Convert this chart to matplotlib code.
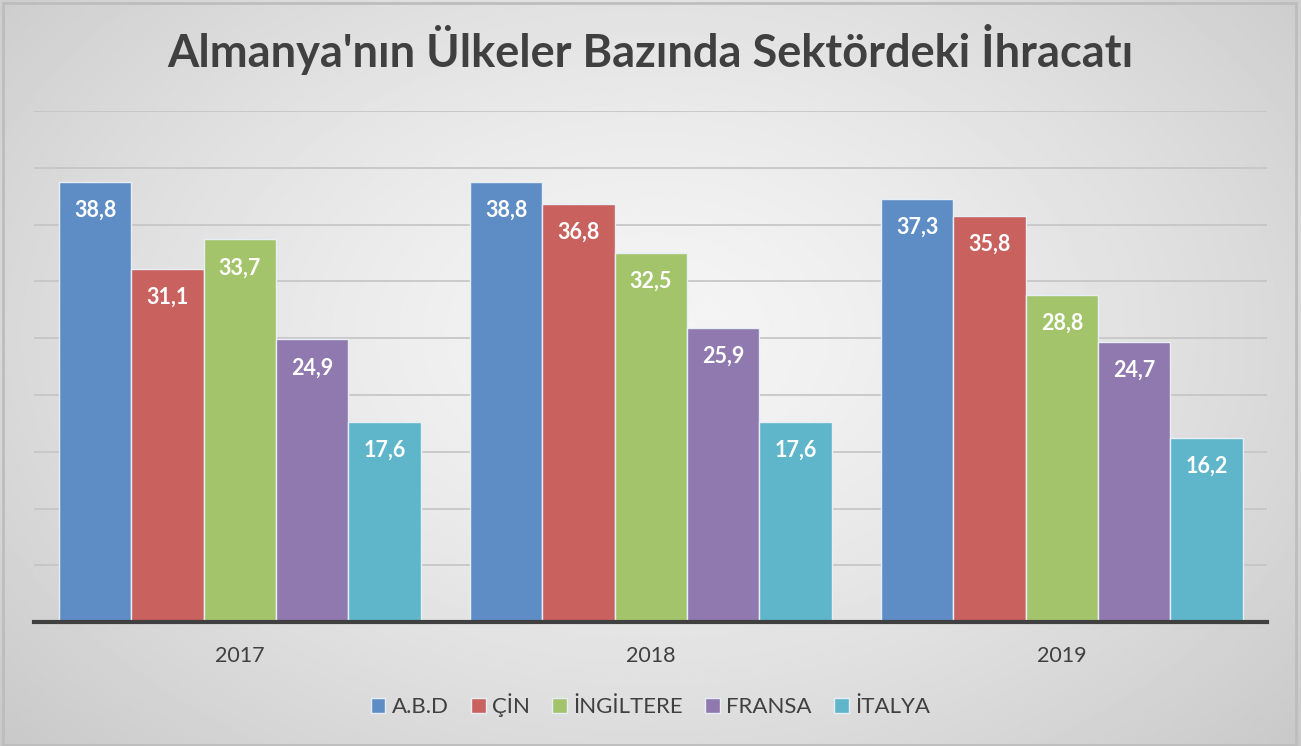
import numpy as np
import matplotlib.pyplot as plt
from matplotlib.patches import Rectangle

years = ['2017', '2018', '2019']
countries = ['A.B.D', 'ÇİN', 'İNGİLTERE', 'FRANSA', 'İTALYA']
abd = [38.8, 38.8, 37.3]
cin = [31.1, 36.8, 35.8]
ingiltere = [33.7, 32.5, 28.8]
fransa = [24.9, 25.9, 24.7]
italya = [17.6, 17.6, 16.2]
series = [abd, cin, ingiltere, fransa, italya]
colors = ['#5E8DC6', '#C9615F', '#A4C46C', '#8F79AF', '#5FB6CB']

plt.rcParams['font.family'] = ['Lato', 'DejaVu Sans']

fig = plt.figure(figsize=(13.01, 7.46), dpi=100)

# background: soft radial gradient, light in the middle
bg = fig.add_axes([0, 0, 1, 1], zorder=-10)
yy, xx = np.mgrid[0:1:300j, 0:1:500j]
r = np.sqrt(((xx - 0.5) / 0.75) ** 2 + ((yy - 0.55) / 0.9) ** 2)
shade = np.clip(0.96 - 0.2 * r ** 1.4, 0.75, 0.96)
bg.imshow(shade, cmap='gray', vmin=0, vmax=1, aspect='auto',
          extent=[0, 1, 0, 1], origin='lower')
bg.set_xlim(0, 1)
bg.set_ylim(0, 1)
bg.axis('off')
bg.add_patch(Rectangle((0.002, 0.002), 0.994, 0.994, fill=False,
                       edgecolor='#bdbdbd', linewidth=2))

ax = fig.add_axes([0.0265, 0.166, 0.9477, 0.685])
ax.patch.set_alpha(0)

x = np.arange(len(years))
w = 0.176
for i, (vals, c) in enumerate(zip(series, colors)):
    pos = x + (i - 2) * w
    bars = ax.bar(pos, vals, width=w, color=c, edgecolor='#e8eef5',
                  linewidth=1, label=countries[i], zorder=3)
    for b, v in zip(bars, vals):
        ax.text(b.get_x() + b.get_width() / 2, v - 2.5,
                f'{v:.1f}'.replace('.', ','), ha='center', va='center',
                color='white', fontsize=15.5, fontweight='bold', zorder=4)

ax.set_xlim(-0.5, 2.5)
ax.set_ylim(0, 45)
ax.set_yticks(np.arange(0, 46, 5))
ax.yaxis.grid(True, color='#c4c4c4', linewidth=1.2, zorder=0)
ax.set_yticklabels([])
ax.tick_params(axis='y', length=0)
ax.set_xticks(x)
ax.set_xticklabels(years, fontsize=15.5, color='#404040')
ax.tick_params(axis='x', length=0, pad=17)
for s in ['top', 'right', 'left']:
    ax.spines[s].set_visible(False)
ax.spines['bottom'].set_color('#404040')
ax.spines['bottom'].set_linewidth(3)
ax.spines['bottom'].set_zorder(5)

fig.text(0.5, 0.933, "Almanya'nın Ülkeler Bazında Sektördeki İhracatı",
         ha='center', va='center', fontsize=32.5, fontweight='bold',
         color='#404040')

fig.legend(loc='center', bbox_to_anchor=(0.5, 0.055), ncol=5, frameon=False,
           fontsize=16, handlelength=0.65, handleheight=0.65, handletextpad=0.3,
           columnspacing=1.0, labelcolor='#404040')

fig.savefig('out.png', dpi=100)
